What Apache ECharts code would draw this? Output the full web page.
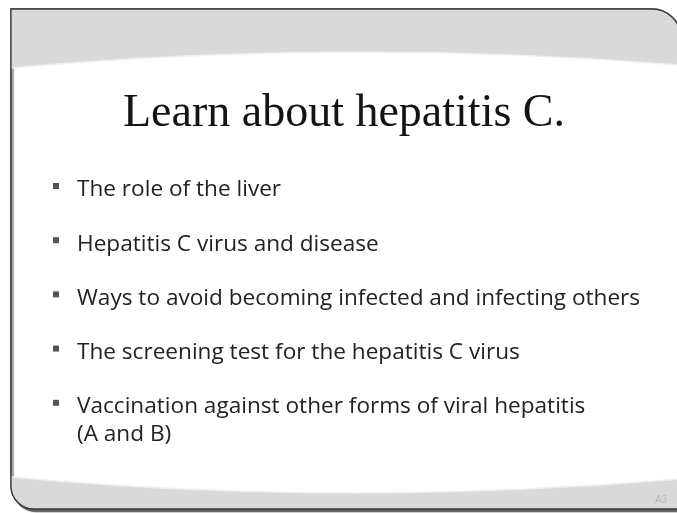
<!DOCTYPE html>
<html>
<head>
<meta charset="utf-8">
<script src="https://cdn.jsdelivr.net/npm/echarts@6/dist/echarts.min.js"></script>
<style>
html,body{margin:0;padding:0;background:#fff;}
#chart{width:677px;height:513px;}
</style>
</head>
<body>
<div id="chart"></div>
<script>
const titleText = 'Learn about hepatitis C.';
const bullets = [
  ['The role of the liver'],
  ['Hepatitis C virus and disease'],
  ['Ways to avoid becoming infected and infecting others'],
  ['The screening test for the hepatitis C virus'],
  ['Vaccination against other forms of viral hepatitis', '(A and B)']
];
const slideLabel = 'A3';

const shapes = {
  outerShape: 'M11 9 L652 9 C668 9 681 22 681 38 L681 509 L34 509 C21.3 509 11 498.7 11 486 Z',
  topBand: 'M11 9 L652 9 C668 9 681 22 681 38 L681 65 Q344 37.5 11 68 Z',
  bottomBand: 'M11 477 Q344 508 681 479 L681 509 L34 509 C21.3 509 11 498.7 11 486 Z',
  topEdge: 'M11 68 Q344 37.5 681 65',
  bottomEdge: 'M11 477 Q344 508 681 479'
};
Object.keys(shapes).forEach(k => {
  echarts.graphic.registerShape(k, echarts.graphic.extendPath(shapes[k], {}));
});

const chart = echarts.init(document.getElementById('chart'), null, {renderer: 'canvas'});

const BODY_FONT = 'Open Sans';
const BODY_SIZE = 22.6;
const firstBaseline = 195;
const step = 54.2;
const wrapStep = 28;

const elements = [];
elements.push({type:'outerShape', z:1, style:{fill:'#fff', stroke:'#3c3c3c', lineWidth:1.3, shadowColor:'rgba(0,0,0,0.55)', shadowOffsetX:2, shadowOffsetY:2.5, shadowBlur:1}});
elements.push({type:'topBand', z:2, style:{fill:'#d9d9d9', stroke:null}});
elements.push({type:'bottomBand', z:2, style:{fill:'#d9d9d9', stroke:null}});
elements.push({type:'topEdge', z:3, style:{fill:null, stroke:'#efefef', lineWidth:1.5}});
elements.push({type:'bottomEdge', z:3, style:{fill:null, stroke:'#efefef', lineWidth:1.5}});
elements.push({type:'outerShape', z:4, style:{fill:null, stroke:'#3c3c3c', lineWidth:1.3}});

elements.push({type:'text', x:344, y:137, z:5, style:{text:titleText, font:'46px "Liberation Serif"', fill:'#141414', textAlign:'center', textVerticalAlign:'bottom'}});

bullets.forEach((lines, i) => {
  const base = firstBaseline + i * step;
  elements.push({type:'rect', z:5, shape:{x:53, y:base - 12, width:6, height:6}, style:{fill:'#555'}});
  lines.forEach((ln, j) => {
    elements.push({type:'text', z:5, x:77, y:base + j * wrapStep - 5, style:{text:ln, font: BODY_SIZE + 'px "' + BODY_FONT + '"', fill:'#222', textAlign:'left', textVerticalAlign:'middle'}});
  });
});

elements.push({type:'text', z:5, x:661, y:500, style:{text:slideLabel, font:'10px "Liberation Sans"', fill:'#b8b8b8', textAlign:'center', textVerticalAlign:'middle'}});

chart.setOption({
  animation:false,
  backgroundColor:'#fff',
  graphic:{elements: elements}
});
</script>
</body>
</html>
